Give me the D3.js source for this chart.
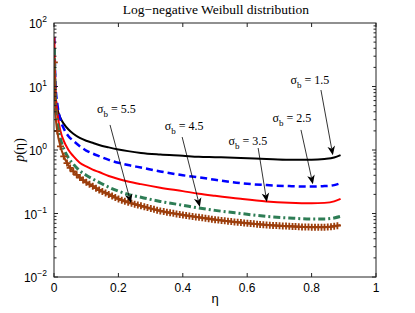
<!DOCTYPE html>
<html><head><meta charset="utf-8">
<script src="https://cdn.jsdelivr.net/npm/d3@7"></script>
<style>body{margin:0;background:#fff}</style>
</head><body><svg id="c" width="415" height="313"></svg>
<script>
// ---- data ----
const eta = [0.001,0.005,0.01,0.02,0.03,0.045,0.06,0.08,0.1,0.12,0.14,0.17,0.2,0.23,0.27,0.33,0.4,0.45,0.5,0.58,0.66,0.73,0.8,0.84,0.87,0.89];
const sigma15 = [20,7,4.6,3.2,2.6,2.1,1.8,1.55,1.4,1.3,1.2,1.1,1.02,0.96,0.9,0.85,0.81,0.78,0.77,0.75,0.72,0.7,0.7,0.72,0.76,0.83];
const sigma25 = [60,10,5.5,3.0,2.2,1.65,1.4,1.15,0.98,0.88,0.8,0.7,0.63,0.58,0.53,0.46,0.4,0.37,0.34,0.3,0.28,0.27,0.265,0.27,0.28,0.3];
const sigma35 = [60,8,4.0,2.0,1.4,1.0,0.8,0.63,0.55,0.49,0.45,0.39,0.35,0.32,0.29,0.255,0.225,0.205,0.19,0.17,0.155,0.148,0.145,0.147,0.155,0.17];
const sigma45 = [40,5,2.8,1.5,1.05,0.75,0.6,0.47,0.4,0.35,0.31,0.26,0.225,0.2,0.18,0.155,0.135,0.122,0.112,0.1,0.09,0.085,0.082,0.082,0.085,0.09];
const sigma55 = [24,3.5,2.0,1.15,0.8,0.57,0.46,0.37,0.31,0.27,0.235,0.2,0.17,0.15,0.132,0.11,0.095,0.087,0.08,0.072,0.066,0.063,0.061,0.061,0.063,0.066];
const xTicks = [0,0.2,0.4,0.6,0.8,1];
const xTickLabels = ["0","0.2","0.4","0.6","0.8","1"];
const yTicks = [1e-2,1e-1,1e0,1e1,1e2];
const yExponents = ["\u22122","\u22121","0","1","2"];
// annotations: label value, text anchor (eta,p), arrow start (eta,p), arrow end (eta,p)
const annLabels = ["1.5","2.5","3.5","4.5","5.5"];
const annText = [[0.795,10.9],[0.739,2.76],[0.602,1.20],[0.404,2.07],[0.194,3.83]];
const annFrom = [[0.829,8.8],[0.767,2.07],[0.634,1.075],[0.398,1.60],[0.174,2.48]];
const annTo = [[0.866,0.83],[0.804,0.29],[0.661,0.152],[0.453,0.127],[0.239,0.146]];

const series = [
  {v: sigma15, color:"#000000", w:2, dash:null},
  {v: sigma25, color:"#0000ff", w:2.5, dash:"7,4"},
  {v: sigma35, color:"#ff0000", w:2, dash:null},
  {v: sigma45, color:"#2e7d55", w:3, dash:"7,3,2,3"},
  {v: sigma55, color:"#9c3e0c", w:2, dash:null, marker:true}
];

// ---- layout ----
const L=54, T=23, W=322, H=254;
const svg = d3.select("#c");
const x = d3.scaleLinear().domain([0,1]).range([L, L+W]);
const y = d3.scaleLog().domain([1e-2,1e2]).range([T+H, T]);

// title
svg.append("text").attr("x", 216).attr("y", 14).attr("text-anchor","middle")
  .attr("font-family","Liberation Serif, Times New Roman, serif").attr("font-size",13.5)
  .text("Log\u2212negative Weibull distribution");

const g = svg.append("g");
g.append("defs").append("clipPath").attr("id","clip").append("rect")
  .attr("x",L).attr("y",T).attr("width",W).attr("height",H);

// curves
const line = d3.line().x((d,i)=>x(eta[i])).y(d=>y(d)).curve(d3.curveMonotoneX);
const plot = g.append("g").attr("clip-path","url(#clip)");
series.forEach(s=>{
  const p = plot.append("path").attr("d", line(s.v)).attr("fill","none")
    .attr("stroke", s.color).attr("stroke-width", s.w);
  if (s.dash) p.attr("stroke-dasharray", s.dash);
  if (s.marker) {
    const node = p.node(); const len = node.getTotalLength();
    let nextX = x(0); const step = (x(1)-x(0))*0.01;
    const pts=[];
    for (let l=0; l<=len; l+=0.25){
      const pt = node.getPointAtLength(l);
      if (pt.x >= nextX){ pts.push(pt); nextX += step; }
    }
    const ms = 3.5;
    plot.append("g").selectAll("path").data(pts).join("path")
      .attr("d", d=>`M${d.x-ms},${d.y}H${d.x+ms}M${d.x},${d.y-ms}V${d.y+ms}`)
      .attr("stroke", s.color).attr("stroke-width",1.8);
  }
});

// axes box and ticks
const axG = svg.append("g").attr("stroke","#222").attr("fill","none").attr("stroke-width",1);
axG.append("rect").attr("x",L).attr("y",T).attr("width",W).attr("height",H);
xTicks.forEach(t=>{
  axG.append("line").attr("x1",x(t)).attr("x2",x(t)).attr("y1",T+H).attr("y2",T+H-4);
  axG.append("line").attr("x1",x(t)).attr("x2",x(t)).attr("y1",T).attr("y2",T+4);
});
for (let e=-2; e<2; e++){
  for (let m=1; m<10; m++){
    const v = m*Math.pow(10,e);
    const len = m===1?4:2.5;
    axG.append("line").attr("x1",L).attr("x2",L+len).attr("y1",y(v)).attr("y2",y(v));
    axG.append("line").attr("x1",L+W).attr("x2",L+W-len).attr("y1",y(v)).attr("y2",y(v));
  }
}
// tick labels
const sans = "Liberation Sans, Arial, Helvetica, sans-serif";
svg.append("g").selectAll("text").data(xTicks).join("text")
  .attr("x",d=>x(d)).attr("y",T+H+15).attr("text-anchor","middle")
  .attr("font-family",sans).attr("font-size",12).text((d,i)=>xTickLabels[i]);
const yl = svg.append("g").selectAll("text").data(yTicks).join("text")
  .attr("x",47).attr("y",d=>y(d)+5).attr("text-anchor","end")
  .attr("font-family",sans).attr("font-size",12);
yl.append("tspan").text("10");
yl.append("tspan").attr("dy",-6).attr("font-size",8.5).text((d,i)=>yExponents[i]);

// axis labels
svg.append("text").attr("x",215).attr("y",303).attr("text-anchor","middle")
  .attr("font-family",sans).attr("font-size",13).text("\u03b7");
const yLab = svg.append("text").attr("transform","translate(24,150) rotate(-90)")
  .attr("text-anchor","middle").attr("font-family","Liberation Serif, Times New Roman, serif").attr("font-size",14);
yLab.append("tspan").attr("font-style","italic").text("p");
yLab.append("tspan").text("(\u03b7)");

// annotations
const serif = "Liberation Serif, Times New Roman, serif";
const ann = svg.append("g");
annLabels.forEach((lab,i)=>{
  const t = ann.append("text").attr("x",x(annText[i][0])).attr("y",y(annText[i][1]))
    .attr("text-anchor","middle").attr("font-family",serif).attr("font-size",12);
  t.append("tspan").text("\u03c3");
  t.append("tspan").attr("dy",4).attr("font-size",9).text("b");
  t.append("tspan").attr("dy",-4).text(" = "+lab);
  const x1=x(annFrom[i][0]), y1=y(annFrom[i][1]), x2=x(annTo[i][0]), y2=y(annTo[i][1]);
  const ang = Math.atan2(y2-y1, x2-x1);
  const hl=9, hw=3.8, back=6.5;
  const bx = x2 - hl*Math.cos(ang), by = y2 - hl*Math.sin(ang);
  const nx = -Math.sin(ang), ny = Math.cos(ang);
  const ix = x2 - back*Math.cos(ang), iy = y2 - back*Math.sin(ang);
  ann.append("line").attr("x1",x1).attr("y1",y1).attr("x2",ix).attr("y2",iy)
    .attr("stroke","#000").attr("stroke-width",0.8);
  ann.append("path").attr("d",`M${x2},${y2}L${bx+hw*nx},${by+hw*ny}L${ix},${iy}L${bx-hw*nx},${by-hw*ny}Z`)
    .attr("fill","#000");
});
</script></body></html>
